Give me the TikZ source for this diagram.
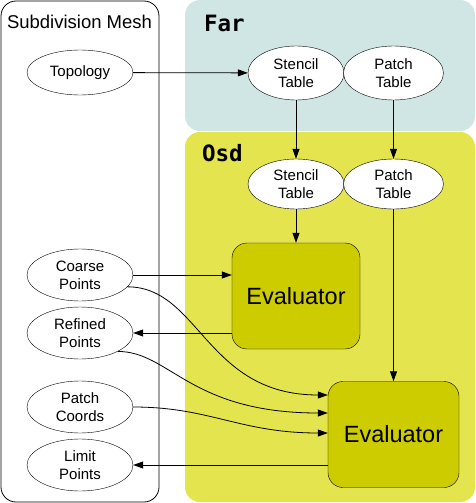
\documentclass[tikz,border=0pt]{standalone}
\usepackage{fontspec}
\setmainfont{Liberation Sans}
\newfontfamily\labelfont{DejaVu Sans Mono}
\usepackage{tikz}
\usetikzlibrary{shapes.geometric,arrows.meta}
\definecolor{farbg}{RGB}{208,230,228}
\definecolor{osdbg}{RGB}{228,228,78}
\definecolor{evalbg}{RGB}{204,204,0}

\begin{document}
\begin{tikzpicture}[x=1pt, y=-1pt,
  data/.style = {draw, ellipse, fill=white, inner sep=0pt, align=center,
                 font=\fontsize{15}{18}\selectfont},
  evalbox/.style = {draw, fill=evalbg, rounded corners=15pt, inner sep=0pt,
                    minimum width=129pt, minimum height=106pt,
                    font=\fontsize{23.5}{28}\selectfont},
  link/.style = {-{Triangle[length=10pt,width=7pt]}, line width=0.8pt},
  group/.style = {font=\labelfont\bfseries\fontsize{22.5}{26}\selectfont, anchor=base west}]

\useasboundingbox (0,0) rectangle (475,503);

%% group backgrounds
\fill[farbg] (185,0) [rounded corners=15pt] rectangle (475,131);
\fill[osdbg] (185,132) [rounded corners=15pt] rectangle (475,502);
\draw[line width=0.8pt, rounded corners=15pt] (1,1) rectangle (159,502);

\node[font=\fontsize{18.5}{22}\selectfont, anchor=base] (mesh) at (79.5, 28.3) {Subdivision Mesh};
\node[group] (far) at (200.5, 31.5) {Far};
\node[group] (osd) at (198.5, 161.8) {Osd};

%% vertex labels
\node[data, minimum width=106pt, minimum height=45pt] (topo) at (80, 72.5) {Topology};
\node[data, minimum width=106pt, minimum height=52pt] (coarse) at (80, 275) {Coarse\\Points};
\node[data, minimum width=106pt, minimum height=52pt] (refined) at (80, 333) {Refined\\Points};
\node[data, minimum width=106pt, minimum height=52pt] (coords) at (80, 407) {Patch\\Coords};
\node[data, minimum width=106pt, minimum height=52pt] (limit) at (80, 465) {Limit\\Points};

\node[data, minimum width=96pt, minimum height=54pt] (farst) at (296, 73) {Stencil\\Table};
\node[data, minimum width=100pt, minimum height=54pt] (farpt) at (393.5, 73) {Patch\\Table};
\node[data, minimum width=96pt, minimum height=50pt] (osdst) at (296, 184) {Stencil\\Table};
\node[data, minimum width=100pt, minimum height=50pt] (osdpt) at (393.5, 184) {Patch\\Table};

\node[evalbox, minimum width=128pt] (eval1) at (296, 296) {Evaluator};
\node[evalbox, minimum width=131pt] (eval2) at (393.5, 434.5) {Evaluator};

%%% edges
\draw[link] (topo) -- (farst);
\draw[link] (farst) -- (osdst);
\draw[link] (farpt) -- (osdpt);
\draw[link] (osdst) -- (eval1);
\draw[link] (osdpt) -- (eval2);

\draw[link] (coarse.east) -- (coarse.east -| eval1.west);
\draw[link] ([yshift=-37pt]eval1.west) -- (refined.east);

\draw[link] (coarse.-14) .. controls +(72,0) and +(-122,0) .. ([yshift=39.5pt]eval2.west);
\draw[link] (refined.-26) .. controls +(52,0) and +(-138,0) .. ([yshift=21.5pt]eval2.west);
\draw[link] (coords.east) .. controls +(77,0) and +(-88,0) .. ([yshift=1.5pt]eval2.west);
\draw[link] ([yshift=-30.5pt]eval2.west) -- (limit.east);

\end{tikzpicture}
\end{document}
